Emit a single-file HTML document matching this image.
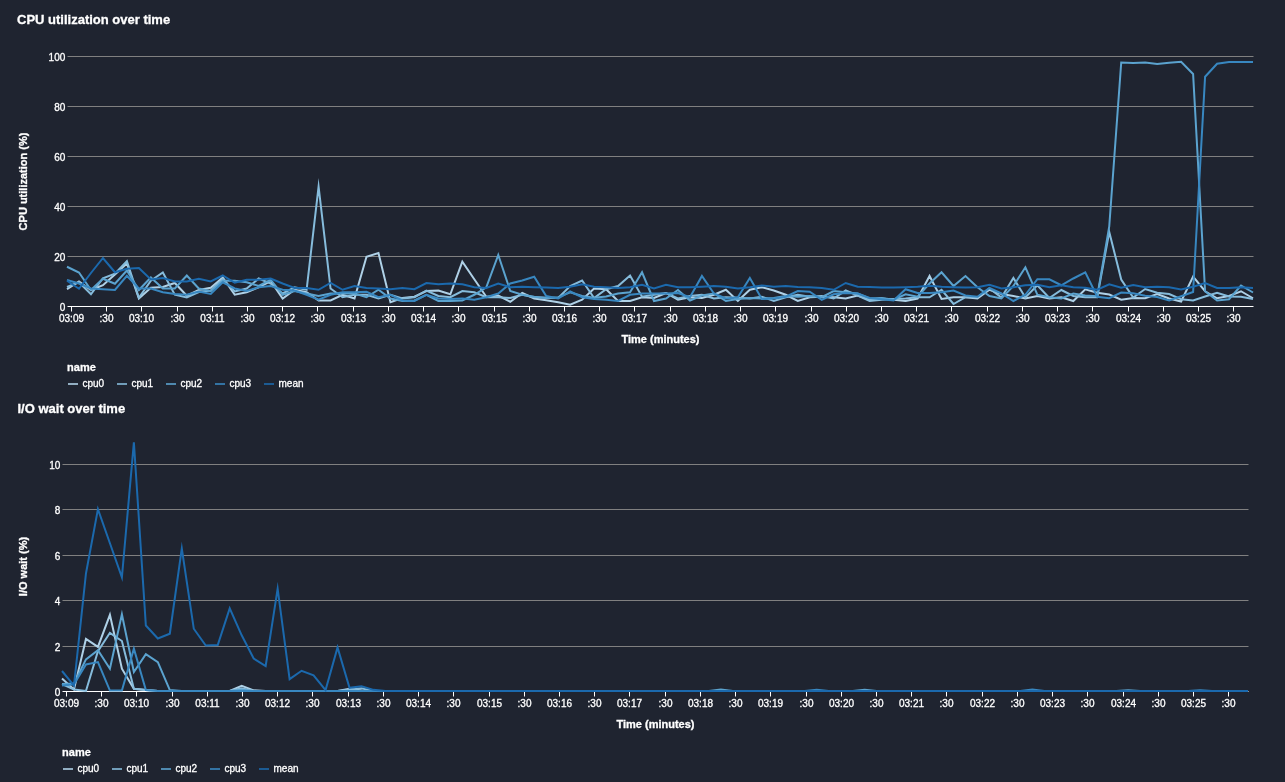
<!DOCTYPE html>
<html><head><meta charset="utf-8"><style>
html,body{margin:0;padding:0;background:#1f2430;}
body{width:1285px;height:782px;overflow:hidden;}
svg{display:block;}
text{}
text{font-family:"Liberation Sans",sans-serif;fill:#ffffff;stroke:#ffffff;stroke-width:0.3px;}
.t{font-size:13px;font-weight:bold;}
.a{font-size:11px;font-weight:bold;}
.l{font-size:10px;}
</style></head><body>
<svg width="1285" height="782" viewBox="0 0 1285 782" style="will-change:transform">
<rect width="1285" height="782" fill="#1f2430"/>
<text x="17" y="23.9" class="t">CPU utilization over time</text>
<line x1="67.5" x2="1253.5" y1="256.50" y2="256.50" stroke="#808080" stroke-width="1"/>
<line x1="67.5" x2="1253.5" y1="206.50" y2="206.50" stroke="#808080" stroke-width="1"/>
<line x1="67.5" x2="1253.5" y1="156.50" y2="156.50" stroke="#808080" stroke-width="1"/>
<line x1="67.5" x2="1253.5" y1="106.50" y2="106.50" stroke="#808080" stroke-width="1"/>
<line x1="67.5" x2="1253.5" y1="56.50" y2="56.50" stroke="#808080" stroke-width="1"/>
<text x="65.30" y="310.60" class="l" text-anchor="end">0</text>
<text x="65.30" y="260.60" class="l" text-anchor="end">20</text>
<text x="65.30" y="210.60" class="l" text-anchor="end">40</text>
<text x="65.30" y="160.60" class="l" text-anchor="end">60</text>
<text x="65.30" y="110.60" class="l" text-anchor="end">80</text>
<text x="65.30" y="60.60" class="l" text-anchor="end">100</text>
<text transform="translate(27.1,181.5) rotate(-90)" class="a" text-anchor="middle">CPU utilization (%)</text>
<line x1="67.5" x2="1253.5" y1="306.5" y2="306.5" stroke="#ffffff" stroke-width="1"/>
<line x1="71.50" x2="71.50" y1="306.5" y2="311.5" stroke="#ffffff" stroke-width="1"/>
<text x="71.50" y="321.70" class="l" text-anchor="middle">03:09</text>
<line x1="106.50" x2="106.50" y1="306.5" y2="311.5" stroke="#ffffff" stroke-width="1"/>
<text x="106.50" y="321.70" class="l" text-anchor="middle">:30</text>
<line x1="141.50" x2="141.50" y1="306.5" y2="311.5" stroke="#ffffff" stroke-width="1"/>
<text x="141.50" y="321.70" class="l" text-anchor="middle">03:10</text>
<line x1="177.50" x2="177.50" y1="306.5" y2="311.5" stroke="#ffffff" stroke-width="1"/>
<text x="177.50" y="321.70" class="l" text-anchor="middle">:30</text>
<line x1="212.50" x2="212.50" y1="306.5" y2="311.5" stroke="#ffffff" stroke-width="1"/>
<text x="212.50" y="321.70" class="l" text-anchor="middle">03:11</text>
<line x1="247.50" x2="247.50" y1="306.5" y2="311.5" stroke="#ffffff" stroke-width="1"/>
<text x="247.50" y="321.70" class="l" text-anchor="middle">:30</text>
<line x1="282.50" x2="282.50" y1="306.5" y2="311.5" stroke="#ffffff" stroke-width="1"/>
<text x="282.50" y="321.70" class="l" text-anchor="middle">03:12</text>
<line x1="317.50" x2="317.50" y1="306.5" y2="311.5" stroke="#ffffff" stroke-width="1"/>
<text x="317.50" y="321.70" class="l" text-anchor="middle">:30</text>
<line x1="353.50" x2="353.50" y1="306.5" y2="311.5" stroke="#ffffff" stroke-width="1"/>
<text x="353.50" y="321.70" class="l" text-anchor="middle">03:13</text>
<line x1="388.50" x2="388.50" y1="306.5" y2="311.5" stroke="#ffffff" stroke-width="1"/>
<text x="388.50" y="321.70" class="l" text-anchor="middle">:30</text>
<line x1="423.50" x2="423.50" y1="306.5" y2="311.5" stroke="#ffffff" stroke-width="1"/>
<text x="423.50" y="321.70" class="l" text-anchor="middle">03:14</text>
<line x1="458.50" x2="458.50" y1="306.5" y2="311.5" stroke="#ffffff" stroke-width="1"/>
<text x="458.50" y="321.70" class="l" text-anchor="middle">:30</text>
<line x1="494.50" x2="494.50" y1="306.5" y2="311.5" stroke="#ffffff" stroke-width="1"/>
<text x="494.50" y="321.70" class="l" text-anchor="middle">03:15</text>
<line x1="529.50" x2="529.50" y1="306.5" y2="311.5" stroke="#ffffff" stroke-width="1"/>
<text x="529.50" y="321.70" class="l" text-anchor="middle">:30</text>
<line x1="564.50" x2="564.50" y1="306.5" y2="311.5" stroke="#ffffff" stroke-width="1"/>
<text x="564.50" y="321.70" class="l" text-anchor="middle">03:16</text>
<line x1="599.50" x2="599.50" y1="306.5" y2="311.5" stroke="#ffffff" stroke-width="1"/>
<text x="599.50" y="321.70" class="l" text-anchor="middle">:30</text>
<line x1="634.50" x2="634.50" y1="306.5" y2="311.5" stroke="#ffffff" stroke-width="1"/>
<text x="634.50" y="321.70" class="l" text-anchor="middle">03:17</text>
<line x1="670.50" x2="670.50" y1="306.5" y2="311.5" stroke="#ffffff" stroke-width="1"/>
<text x="670.50" y="321.70" class="l" text-anchor="middle">:30</text>
<line x1="705.50" x2="705.50" y1="306.5" y2="311.5" stroke="#ffffff" stroke-width="1"/>
<text x="705.50" y="321.70" class="l" text-anchor="middle">03:18</text>
<line x1="740.50" x2="740.50" y1="306.5" y2="311.5" stroke="#ffffff" stroke-width="1"/>
<text x="740.50" y="321.70" class="l" text-anchor="middle">:30</text>
<line x1="775.50" x2="775.50" y1="306.5" y2="311.5" stroke="#ffffff" stroke-width="1"/>
<text x="775.50" y="321.70" class="l" text-anchor="middle">03:19</text>
<line x1="811.50" x2="811.50" y1="306.5" y2="311.5" stroke="#ffffff" stroke-width="1"/>
<text x="811.50" y="321.70" class="l" text-anchor="middle">:30</text>
<line x1="846.50" x2="846.50" y1="306.5" y2="311.5" stroke="#ffffff" stroke-width="1"/>
<text x="846.50" y="321.70" class="l" text-anchor="middle">03:20</text>
<line x1="881.50" x2="881.50" y1="306.5" y2="311.5" stroke="#ffffff" stroke-width="1"/>
<text x="881.50" y="321.70" class="l" text-anchor="middle">:30</text>
<line x1="916.50" x2="916.50" y1="306.5" y2="311.5" stroke="#ffffff" stroke-width="1"/>
<text x="916.50" y="321.70" class="l" text-anchor="middle">03:21</text>
<line x1="951.50" x2="951.50" y1="306.5" y2="311.5" stroke="#ffffff" stroke-width="1"/>
<text x="951.50" y="321.70" class="l" text-anchor="middle">:30</text>
<line x1="987.50" x2="987.50" y1="306.5" y2="311.5" stroke="#ffffff" stroke-width="1"/>
<text x="987.50" y="321.70" class="l" text-anchor="middle">03:22</text>
<line x1="1022.50" x2="1022.50" y1="306.5" y2="311.5" stroke="#ffffff" stroke-width="1"/>
<text x="1022.50" y="321.70" class="l" text-anchor="middle">:30</text>
<line x1="1057.50" x2="1057.50" y1="306.5" y2="311.5" stroke="#ffffff" stroke-width="1"/>
<text x="1057.50" y="321.70" class="l" text-anchor="middle">03:23</text>
<line x1="1092.50" x2="1092.50" y1="306.5" y2="311.5" stroke="#ffffff" stroke-width="1"/>
<text x="1092.50" y="321.70" class="l" text-anchor="middle">:30</text>
<line x1="1128.50" x2="1128.50" y1="306.5" y2="311.5" stroke="#ffffff" stroke-width="1"/>
<text x="1128.50" y="321.70" class="l" text-anchor="middle">03:24</text>
<line x1="1163.50" x2="1163.50" y1="306.5" y2="311.5" stroke="#ffffff" stroke-width="1"/>
<text x="1163.50" y="321.70" class="l" text-anchor="middle">:30</text>
<line x1="1198.50" x2="1198.50" y1="306.5" y2="311.5" stroke="#ffffff" stroke-width="1"/>
<text x="1198.50" y="321.70" class="l" text-anchor="middle">03:25</text>
<line x1="1233.50" x2="1233.50" y1="306.5" y2="311.5" stroke="#ffffff" stroke-width="1"/>
<text x="1233.50" y="321.70" class="l" text-anchor="middle">:30</text>
<text x="660.50" y="342.80" class="a" text-anchor="middle">Time (minutes)</text>
<polyline points="67.00,289.25 78.98,281.50 90.96,290.00 102.94,285.25 114.92,274.50 126.90,263.50 138.88,298.50 150.86,287.75 162.84,287.00 174.82,283.00 186.80,295.75 198.78,290.00 210.76,287.75 222.74,277.50 234.72,294.75 246.70,292.25 258.68,287.25 270.66,281.00 282.64,298.50 294.62,289.75 306.60,292.25 318.58,300.50 330.56,300.50 342.54,294.75 354.52,298.50 366.49,256.75 378.47,253.00 390.45,302.25 402.43,298.00 414.41,296.75 426.39,291.00 438.37,290.50 450.35,294.25 462.33,261.75 474.31,279.25 486.29,296.75 498.27,295.50 510.25,301.75 522.23,293.00 534.21,298.50 546.19,300.25 558.17,302.25 570.15,304.75 582.13,299.75 594.11,288.50 606.09,289.25 618.07,301.00 630.05,301.00 642.03,297.25 654.01,298.00 665.99,293.00 677.97,299.75 689.95,297.25 701.93,298.00 713.91,294.75 725.89,289.75 737.87,301.00 749.85,289.75 761.83,287.25 773.81,290.50 785.79,294.75 797.77,301.00 809.75,297.25 821.73,296.75 833.71,297.25 845.69,298.50 857.67,295.50 869.65,299.75 881.63,298.50 893.61,299.75 905.59,301.00 917.57,298.50 929.55,276.00 941.53,299.00 953.51,297.25 965.48,297.25 977.46,298.50 989.44,289.75 1001.42,294.00 1013.40,296.00 1025.38,298.50 1037.36,296.00 1049.34,298.50 1061.32,297.25 1073.30,301.00 1085.28,289.25 1097.26,292.75 1109.24,294.50 1121.22,299.75 1133.20,298.00 1145.18,298.25 1157.16,294.00 1169.14,298.50 1181.12,301.50 1193.10,276.50 1205.08,291.25 1217.06,298.25 1229.04,296.00 1241.02,291.25 1253.00,298.25" fill="none" stroke="#afd1e7" stroke-width="2" stroke-miterlimit="10"/>
<polyline points="67.00,287.00 78.98,282.25 90.96,294.25 102.94,278.25 114.92,273.75 126.90,261.25 138.88,297.75 150.86,280.75 162.84,272.50 174.82,294.75 186.80,297.50 198.78,292.00 210.76,290.50 222.74,279.25 234.72,291.50 246.70,288.50 258.68,278.50 270.66,283.50 282.64,293.50 294.62,287.25 306.60,289.75 318.58,186.56 330.56,288.50 342.54,297.25 354.52,294.75 366.49,294.75 378.47,298.50 390.45,294.75 402.43,298.50 414.41,297.25 426.39,290.50 438.37,296.00 450.35,297.25 462.33,291.00 474.31,292.25 486.29,297.25 498.27,297.25 510.25,298.00 522.23,294.75 534.21,297.25 546.19,297.75 558.17,298.00 570.15,286.00 582.13,280.50 594.11,298.00 606.09,289.25 618.07,286.00 630.05,275.50 642.03,296.75 654.01,294.75 665.99,293.00 677.97,298.50 689.95,296.00 701.93,294.75 713.91,298.50 725.89,297.25 737.87,297.75 749.85,298.50 761.83,296.75 773.81,301.00 785.79,297.25 797.77,294.75 809.75,296.75 821.73,296.00 833.71,298.50 845.69,290.50 857.67,295.50 869.65,301.00 881.63,299.75 893.61,299.00 905.59,298.50 917.57,297.25 929.55,297.25 941.53,289.75 953.51,304.00 965.48,297.25 977.46,297.25 989.44,288.50 1001.42,297.50 1013.40,278.00 1025.38,297.50 1037.36,285.25 1049.34,298.00 1061.32,290.00 1073.30,296.00 1085.28,297.25 1097.26,297.25 1109.24,232.03 1121.22,279.50 1133.20,297.50 1145.18,289.00 1157.16,292.75 1169.14,294.00 1181.12,299.25 1193.10,300.50 1205.08,296.50 1217.06,292.75 1229.04,296.50 1241.02,296.75 1253.00,299.00" fill="none" stroke="#86bcdc" stroke-width="2" stroke-miterlimit="10"/>
<polyline points="67.00,266.75 78.98,272.50 90.96,290.00 102.94,278.75 114.92,283.75 126.90,270.50 138.88,290.00 150.86,277.50 162.84,288.50 174.82,288.50 186.80,275.50 198.78,288.50 210.76,291.25 222.74,280.75 234.72,280.75 246.70,282.25 258.68,286.00 270.66,279.75 282.64,294.75 294.62,291.00 306.60,293.50 318.58,296.00 330.56,293.50 342.54,293.50 354.52,293.50 366.49,297.25 378.47,289.75 390.45,298.50 402.43,301.00 414.41,300.50 426.39,294.75 438.37,301.00 450.35,301.00 462.33,300.50 474.31,294.75 486.29,287.25 498.27,255.00 510.25,291.00 522.23,294.75 534.21,296.75 546.19,298.00 558.17,297.25 570.15,292.25 582.13,296.00 594.11,297.75 606.09,296.50 618.07,293.50 630.05,292.25 642.03,272.25 654.01,301.00 665.99,298.50 677.97,290.00 689.95,300.50 701.93,295.50 713.91,293.50 725.89,301.00 737.87,299.00 749.85,298.00 761.83,298.50 773.81,298.00 785.79,296.00 797.77,296.75 809.75,296.00 821.73,297.25 833.71,291.00 845.69,292.25 857.67,293.50 869.65,298.50 881.63,298.00 893.61,299.75 905.59,294.25 917.57,296.75 929.55,283.50 941.53,272.25 953.51,286.00 965.48,276.00 977.46,287.25 989.44,296.00 1001.42,298.50 1013.40,286.00 1025.38,267.25 1037.36,294.75 1049.34,297.25 1061.32,298.50 1073.30,293.50 1085.28,295.50 1097.26,296.25 1109.24,226.50 1121.22,62.50 1133.20,63.00 1145.18,62.50 1157.16,64.00 1169.14,62.75 1181.12,61.75 1193.10,74.00 1205.08,291.25 1217.06,300.50 1229.04,299.25 1241.02,285.50 1253.00,292.50" fill="none" stroke="#5ba3cf" stroke-width="2" stroke-miterlimit="10"/>
<polyline points="67.00,280.00 78.98,283.50 90.96,288.50 102.94,289.25 114.92,290.00 126.90,275.75 138.88,288.50 150.86,288.50 162.84,292.25 174.82,294.00 186.80,294.75 198.78,291.50 210.76,294.00 222.74,282.25 234.72,288.50 246.70,291.00 258.68,287.25 270.66,286.00 282.64,289.75 294.62,290.50 306.60,294.75 318.58,299.75 330.56,294.75 342.54,292.25 354.52,292.25 366.49,291.75 378.47,297.25 390.45,294.75 402.43,300.50 414.41,301.00 426.39,294.75 438.37,298.50 450.35,299.00 462.33,298.50 474.31,299.75 486.29,297.25 498.27,293.50 510.25,283.50 522.23,280.50 534.21,276.75 546.19,296.00 558.17,298.50 570.15,291.50 582.13,297.25 594.11,299.00 606.09,299.75 618.07,301.00 630.05,294.75 642.03,293.50 654.01,293.50 665.99,293.50 677.97,293.00 689.95,297.25 701.93,276.00 713.91,293.50 725.89,298.50 737.87,297.25 749.85,278.00 761.83,299.00 773.81,298.50 785.79,296.75 797.77,291.00 809.75,291.75 821.73,299.75 833.71,294.25 845.69,293.00 857.67,293.50 869.65,298.00 881.63,299.25 893.61,300.50 905.59,289.25 917.57,293.00 929.55,293.00 941.53,292.25 953.51,290.50 965.48,295.50 977.46,296.75 989.44,288.00 1001.42,293.50 1013.40,301.00 1025.38,294.75 1037.36,279.25 1049.34,279.25 1061.32,285.25 1073.30,278.50 1085.28,272.25 1097.26,296.75 1109.24,298.25 1121.22,292.50 1133.20,293.25 1145.18,295.75 1157.16,297.00 1169.14,300.50 1181.12,296.25 1193.10,292.00 1205.08,76.75 1217.06,63.75 1229.04,62.00 1241.02,62.00 1253.00,62.00" fill="none" stroke="#3887c0" stroke-width="2" stroke-miterlimit="10"/>
<polyline points="67.00,280.75 78.98,288.75 90.96,273.00 102.94,258.00 114.92,272.25 126.90,268.75 138.88,268.00 150.86,279.50 162.84,278.00 174.82,281.50 186.80,281.50 198.78,278.75 210.76,281.50 222.74,275.50 234.72,282.75 246.70,279.75 258.68,279.75 270.66,278.50 282.64,283.50 294.62,288.00 306.60,288.00 318.58,289.75 330.56,283.00 342.54,289.75 354.52,286.00 366.49,288.00 378.47,288.50 390.45,289.25 402.43,288.00 414.41,289.25 426.39,283.00 438.37,284.25 450.35,283.50 462.33,284.25 474.31,287.25 486.29,288.00 498.27,283.50 510.25,287.25 522.23,286.75 534.21,287.25 546.19,287.50 558.17,288.00 570.15,286.75 582.13,284.25 594.11,286.75 606.09,287.25 618.07,288.00 630.05,287.25 642.03,284.75 654.01,288.50 665.99,284.75 677.97,287.25 689.95,287.25 701.93,286.75 713.91,286.00 725.89,286.75 737.87,288.50 749.85,287.25 761.83,285.50 773.81,286.75 785.79,286.00 797.77,287.00 809.75,287.25 821.73,288.00 833.71,289.75 845.69,283.00 857.67,286.75 869.65,287.00 881.63,287.50 893.61,287.50 905.59,287.25 917.57,286.75 929.55,285.75 941.53,286.75 953.51,287.25 965.48,287.50 977.46,287.25 989.44,284.75 1001.42,288.50 1013.40,287.25 1025.38,285.25 1037.36,284.75 1049.34,287.25 1061.32,285.25 1073.30,287.25 1085.28,287.75 1097.26,289.75 1109.24,284.25 1121.22,287.75 1133.20,285.00 1145.18,287.25 1157.16,286.75 1169.14,287.25 1181.12,289.50 1193.10,286.75 1205.08,283.00 1217.06,288.00 1229.04,288.00 1241.02,287.25 1253.00,288.00" fill="none" stroke="#1b69ad" stroke-width="2" stroke-miterlimit="10"/>
<text x="67.10" y="371.10" class="a">name</text>
<line x1="68.00" x2="78.00" y1="384.00" y2="384.00" stroke="#afd1e7" stroke-opacity="0.8" stroke-width="2"/>
<text x="82.50" y="386.80" class="l">cpu0</text>
<line x1="117.00" x2="127.00" y1="384.00" y2="384.00" stroke="#86bcdc" stroke-opacity="0.8" stroke-width="2"/>
<text x="131.50" y="386.80" class="l">cpu1</text>
<line x1="166.00" x2="176.00" y1="384.00" y2="384.00" stroke="#5ba3cf" stroke-opacity="0.8" stroke-width="2"/>
<text x="180.50" y="386.80" class="l">cpu2</text>
<line x1="215.00" x2="225.00" y1="384.00" y2="384.00" stroke="#3887c0" stroke-opacity="0.8" stroke-width="2"/>
<text x="229.50" y="386.80" class="l">cpu3</text>
<line x1="264.00" x2="274.00" y1="384.00" y2="384.00" stroke="#1b69ad" stroke-opacity="0.8" stroke-width="2"/>
<text x="278.50" y="386.80" class="l">mean</text>
<text x="17.5" y="413.0" class="t">I/O wait over time</text>
<line x1="62.5" x2="1248.5" y1="646.50" y2="646.50" stroke="#808080" stroke-width="1"/>
<line x1="62.5" x2="1248.5" y1="600.50" y2="600.50" stroke="#808080" stroke-width="1"/>
<line x1="62.5" x2="1248.5" y1="555.50" y2="555.50" stroke="#808080" stroke-width="1"/>
<line x1="62.5" x2="1248.5" y1="509.50" y2="509.50" stroke="#808080" stroke-width="1"/>
<line x1="62.5" x2="1248.5" y1="464.50" y2="464.50" stroke="#808080" stroke-width="1"/>
<text x="60.30" y="695.60" class="l" text-anchor="end">0</text>
<text x="60.30" y="650.60" class="l" text-anchor="end">2</text>
<text x="60.30" y="604.60" class="l" text-anchor="end">4</text>
<text x="60.30" y="559.60" class="l" text-anchor="end">6</text>
<text x="60.30" y="513.60" class="l" text-anchor="end">8</text>
<text x="60.30" y="468.60" class="l" text-anchor="end">10</text>
<text transform="translate(27.1,566.5) rotate(-90)" class="a" text-anchor="middle">I/O wait (%)</text>
<line x1="62.5" x2="1248.5" y1="691.5" y2="691.5" stroke="#ffffff" stroke-width="1"/>
<line x1="66.50" x2="66.50" y1="691.5" y2="696.5" stroke="#ffffff" stroke-width="1"/>
<text x="66.50" y="706.70" class="l" text-anchor="middle">03:09</text>
<line x1="101.50" x2="101.50" y1="691.5" y2="696.5" stroke="#ffffff" stroke-width="1"/>
<text x="101.50" y="706.70" class="l" text-anchor="middle">:30</text>
<line x1="136.50" x2="136.50" y1="691.5" y2="696.5" stroke="#ffffff" stroke-width="1"/>
<text x="136.50" y="706.70" class="l" text-anchor="middle">03:10</text>
<line x1="172.50" x2="172.50" y1="691.5" y2="696.5" stroke="#ffffff" stroke-width="1"/>
<text x="172.50" y="706.70" class="l" text-anchor="middle">:30</text>
<line x1="207.50" x2="207.50" y1="691.5" y2="696.5" stroke="#ffffff" stroke-width="1"/>
<text x="207.50" y="706.70" class="l" text-anchor="middle">03:11</text>
<line x1="242.50" x2="242.50" y1="691.5" y2="696.5" stroke="#ffffff" stroke-width="1"/>
<text x="242.50" y="706.70" class="l" text-anchor="middle">:30</text>
<line x1="277.50" x2="277.50" y1="691.5" y2="696.5" stroke="#ffffff" stroke-width="1"/>
<text x="277.50" y="706.70" class="l" text-anchor="middle">03:12</text>
<line x1="312.50" x2="312.50" y1="691.5" y2="696.5" stroke="#ffffff" stroke-width="1"/>
<text x="312.50" y="706.70" class="l" text-anchor="middle">:30</text>
<line x1="348.50" x2="348.50" y1="691.5" y2="696.5" stroke="#ffffff" stroke-width="1"/>
<text x="348.50" y="706.70" class="l" text-anchor="middle">03:13</text>
<line x1="383.50" x2="383.50" y1="691.5" y2="696.5" stroke="#ffffff" stroke-width="1"/>
<text x="383.50" y="706.70" class="l" text-anchor="middle">:30</text>
<line x1="418.50" x2="418.50" y1="691.5" y2="696.5" stroke="#ffffff" stroke-width="1"/>
<text x="418.50" y="706.70" class="l" text-anchor="middle">03:14</text>
<line x1="453.50" x2="453.50" y1="691.5" y2="696.5" stroke="#ffffff" stroke-width="1"/>
<text x="453.50" y="706.70" class="l" text-anchor="middle">:30</text>
<line x1="489.50" x2="489.50" y1="691.5" y2="696.5" stroke="#ffffff" stroke-width="1"/>
<text x="489.50" y="706.70" class="l" text-anchor="middle">03:15</text>
<line x1="524.50" x2="524.50" y1="691.5" y2="696.5" stroke="#ffffff" stroke-width="1"/>
<text x="524.50" y="706.70" class="l" text-anchor="middle">:30</text>
<line x1="559.50" x2="559.50" y1="691.5" y2="696.5" stroke="#ffffff" stroke-width="1"/>
<text x="559.50" y="706.70" class="l" text-anchor="middle">03:16</text>
<line x1="594.50" x2="594.50" y1="691.5" y2="696.5" stroke="#ffffff" stroke-width="1"/>
<text x="594.50" y="706.70" class="l" text-anchor="middle">:30</text>
<line x1="629.50" x2="629.50" y1="691.5" y2="696.5" stroke="#ffffff" stroke-width="1"/>
<text x="629.50" y="706.70" class="l" text-anchor="middle">03:17</text>
<line x1="665.50" x2="665.50" y1="691.5" y2="696.5" stroke="#ffffff" stroke-width="1"/>
<text x="665.50" y="706.70" class="l" text-anchor="middle">:30</text>
<line x1="700.50" x2="700.50" y1="691.5" y2="696.5" stroke="#ffffff" stroke-width="1"/>
<text x="700.50" y="706.70" class="l" text-anchor="middle">03:18</text>
<line x1="735.50" x2="735.50" y1="691.5" y2="696.5" stroke="#ffffff" stroke-width="1"/>
<text x="735.50" y="706.70" class="l" text-anchor="middle">:30</text>
<line x1="770.50" x2="770.50" y1="691.5" y2="696.5" stroke="#ffffff" stroke-width="1"/>
<text x="770.50" y="706.70" class="l" text-anchor="middle">03:19</text>
<line x1="806.50" x2="806.50" y1="691.5" y2="696.5" stroke="#ffffff" stroke-width="1"/>
<text x="806.50" y="706.70" class="l" text-anchor="middle">:30</text>
<line x1="841.50" x2="841.50" y1="691.5" y2="696.5" stroke="#ffffff" stroke-width="1"/>
<text x="841.50" y="706.70" class="l" text-anchor="middle">03:20</text>
<line x1="876.50" x2="876.50" y1="691.5" y2="696.5" stroke="#ffffff" stroke-width="1"/>
<text x="876.50" y="706.70" class="l" text-anchor="middle">:30</text>
<line x1="911.50" x2="911.50" y1="691.5" y2="696.5" stroke="#ffffff" stroke-width="1"/>
<text x="911.50" y="706.70" class="l" text-anchor="middle">03:21</text>
<line x1="946.50" x2="946.50" y1="691.5" y2="696.5" stroke="#ffffff" stroke-width="1"/>
<text x="946.50" y="706.70" class="l" text-anchor="middle">:30</text>
<line x1="982.50" x2="982.50" y1="691.5" y2="696.5" stroke="#ffffff" stroke-width="1"/>
<text x="982.50" y="706.70" class="l" text-anchor="middle">03:22</text>
<line x1="1017.50" x2="1017.50" y1="691.5" y2="696.5" stroke="#ffffff" stroke-width="1"/>
<text x="1017.50" y="706.70" class="l" text-anchor="middle">:30</text>
<line x1="1052.50" x2="1052.50" y1="691.5" y2="696.5" stroke="#ffffff" stroke-width="1"/>
<text x="1052.50" y="706.70" class="l" text-anchor="middle">03:23</text>
<line x1="1087.50" x2="1087.50" y1="691.5" y2="696.5" stroke="#ffffff" stroke-width="1"/>
<text x="1087.50" y="706.70" class="l" text-anchor="middle">:30</text>
<line x1="1123.50" x2="1123.50" y1="691.5" y2="696.5" stroke="#ffffff" stroke-width="1"/>
<text x="1123.50" y="706.70" class="l" text-anchor="middle">03:24</text>
<line x1="1158.50" x2="1158.50" y1="691.5" y2="696.5" stroke="#ffffff" stroke-width="1"/>
<text x="1158.50" y="706.70" class="l" text-anchor="middle">:30</text>
<line x1="1193.50" x2="1193.50" y1="691.5" y2="696.5" stroke="#ffffff" stroke-width="1"/>
<text x="1193.50" y="706.70" class="l" text-anchor="middle">03:25</text>
<line x1="1228.50" x2="1228.50" y1="691.5" y2="696.5" stroke="#ffffff" stroke-width="1"/>
<text x="1228.50" y="706.70" class="l" text-anchor="middle">:30</text>
<text x="655.50" y="727.80" class="a" text-anchor="middle">Time (minutes)</text>
<polyline points="62.00,678.50 73.98,689.41 85.96,638.95 97.94,646.91 109.92,614.88 121.90,668.73 133.88,688.73 145.86,690.09 157.84,691.00 169.82,691.00 181.80,691.00 193.78,691.00 205.76,691.00 217.74,691.00 229.72,691.00 241.70,685.77 253.68,690.32 265.66,691.00 277.64,691.00 289.62,691.00 301.60,691.00 313.58,691.00 325.56,691.00 337.54,691.00 349.52,688.73 361.49,690.55 373.47,691.00 385.45,691.00 397.43,691.00 409.41,691.00 421.39,691.00 433.37,691.00 445.35,691.00 457.33,691.00 469.31,691.00 481.29,691.00 493.27,691.00 505.25,691.00 517.23,691.00 529.21,691.00 541.19,691.00 553.17,691.00 565.15,691.00 577.13,691.00 589.11,691.00 601.09,691.00 613.07,691.00 625.05,691.00 637.03,691.00 649.01,691.00 660.99,691.00 672.97,691.00 684.95,691.00 696.93,691.00 708.91,691.00 720.89,691.00 732.87,691.00 744.85,691.00 756.83,691.00 768.81,691.00 780.79,691.00 792.77,691.00 804.75,691.00 816.73,691.00 828.71,691.00 840.69,691.00 852.67,691.00 864.65,691.00 876.63,691.00 888.61,691.00 900.59,691.00 912.57,691.00 924.55,691.00 936.53,691.00 948.51,691.00 960.48,691.00 972.46,691.00 984.44,691.00 996.42,691.00 1008.40,691.00 1020.38,691.00 1032.36,691.00 1044.34,691.00 1056.32,691.00 1068.30,691.00 1080.28,691.00 1092.26,691.00 1104.24,691.00 1116.22,691.00 1128.20,691.00 1140.18,691.00 1152.16,691.00 1164.14,691.00 1176.12,691.00 1188.10,691.00 1200.08,691.00 1212.06,691.00 1224.04,691.00 1236.02,691.00 1248.00,691.00" fill="none" stroke="#afd1e7" stroke-width="2" stroke-miterlimit="10"/>
<polyline points="62.00,684.18 73.98,689.41 85.96,691.00 97.94,651.23 109.92,632.82 121.90,641.00 133.88,688.73 145.86,690.09 157.84,691.00 169.82,691.00 181.80,691.00 193.78,691.00 205.76,691.00 217.74,691.00 229.72,691.00 241.70,688.27 253.68,691.00 265.66,691.00 277.64,691.00 289.62,691.00 301.60,691.00 313.58,691.00 325.56,691.00 337.54,691.00 349.52,689.86 361.49,688.27 373.47,691.00 385.45,691.00 397.43,691.00 409.41,691.00 421.39,691.00 433.37,691.00 445.35,691.00 457.33,691.00 469.31,691.00 481.29,691.00 493.27,691.00 505.25,691.00 517.23,691.00 529.21,691.00 541.19,691.00 553.17,691.00 565.15,691.00 577.13,691.00 589.11,691.00 601.09,691.00 613.07,691.00 625.05,691.00 637.03,691.00 649.01,691.00 660.99,691.00 672.97,691.00 684.95,691.00 696.93,691.00 708.91,691.00 720.89,691.00 732.87,691.00 744.85,691.00 756.83,691.00 768.81,691.00 780.79,691.00 792.77,691.00 804.75,691.00 816.73,691.00 828.71,691.00 840.69,691.00 852.67,691.00 864.65,691.00 876.63,691.00 888.61,691.00 900.59,691.00 912.57,691.00 924.55,691.00 936.53,691.00 948.51,691.00 960.48,691.00 972.46,691.00 984.44,691.00 996.42,691.00 1008.40,691.00 1020.38,691.00 1032.36,691.00 1044.34,691.00 1056.32,691.00 1068.30,691.00 1080.28,691.00 1092.26,691.00 1104.24,691.00 1116.22,691.00 1128.20,691.00 1140.18,691.00 1152.16,691.00 1164.14,691.00 1176.12,691.00 1188.10,691.00 1200.08,691.00 1212.06,691.00 1224.04,691.00 1236.02,691.00 1248.00,691.00" fill="none" stroke="#86bcdc" stroke-width="2" stroke-miterlimit="10"/>
<polyline points="62.00,683.95 73.98,683.50 85.96,659.41 97.94,650.32 109.92,668.73 121.90,614.18 133.88,672.03 145.86,654.18 157.84,662.14 169.82,690.09 181.80,691.00 193.78,691.00 205.76,691.00 217.74,691.00 229.72,691.00 241.70,689.86 253.68,691.00 265.66,691.00 277.64,691.00 289.62,691.00 301.60,691.00 313.58,691.00 325.56,691.00 337.54,691.00 349.52,691.00 361.49,691.00 373.47,691.00 385.45,691.00 397.43,691.00 409.41,691.00 421.39,691.00 433.37,691.00 445.35,691.00 457.33,691.00 469.31,691.00 481.29,691.00 493.27,691.00 505.25,691.00 517.23,691.00 529.21,691.00 541.19,691.00 553.17,691.00 565.15,691.00 577.13,691.00 589.11,691.00 601.09,691.00 613.07,691.00 625.05,691.00 637.03,691.00 649.01,691.00 660.99,691.00 672.97,691.00 684.95,691.00 696.93,691.00 708.91,691.00 720.89,689.41 732.87,691.00 744.85,691.00 756.83,691.00 768.81,691.00 780.79,691.00 792.77,691.00 804.75,691.00 816.73,691.00 828.71,691.00 840.69,691.00 852.67,691.00 864.65,689.86 876.63,691.00 888.61,691.00 900.59,691.00 912.57,691.00 924.55,691.00 936.53,691.00 948.51,691.00 960.48,691.00 972.46,691.00 984.44,691.00 996.42,691.00 1008.40,691.00 1020.38,691.00 1032.36,691.00 1044.34,691.00 1056.32,691.00 1068.30,691.00 1080.28,691.00 1092.26,691.00 1104.24,691.00 1116.22,691.00 1128.20,690.32 1140.18,691.00 1152.16,691.00 1164.14,691.00 1176.12,691.00 1188.10,691.00 1200.08,691.00 1212.06,691.00 1224.04,691.00 1236.02,691.00 1248.00,691.00" fill="none" stroke="#5ba3cf" stroke-width="2" stroke-miterlimit="10"/>
<polyline points="62.00,685.55 73.98,684.41 85.96,664.41 97.94,662.14 109.92,690.55 121.90,690.55 133.88,648.62 145.86,690.09 157.84,691.00 169.82,691.00 181.80,691.00 193.78,691.00 205.76,691.00 217.74,691.00 229.72,691.00 241.70,691.00 253.68,691.00 265.66,691.00 277.64,691.00 289.62,691.00 301.60,691.00 313.58,691.00 325.56,691.00 337.54,691.00 349.52,691.00 361.49,691.00 373.47,691.00 385.45,691.00 397.43,691.00 409.41,691.00 421.39,691.00 433.37,691.00 445.35,691.00 457.33,691.00 469.31,691.00 481.29,691.00 493.27,691.00 505.25,691.00 517.23,691.00 529.21,691.00 541.19,691.00 553.17,691.00 565.15,691.00 577.13,691.00 589.11,691.00 601.09,691.00 613.07,691.00 625.05,691.00 637.03,691.00 649.01,691.00 660.99,691.00 672.97,691.00 684.95,691.00 696.93,691.00 708.91,691.00 720.89,691.00 732.87,691.00 744.85,691.00 756.83,691.00 768.81,691.00 780.79,691.00 792.77,691.00 804.75,691.00 816.73,689.64 828.71,691.00 840.69,691.00 852.67,691.00 864.65,691.00 876.63,691.00 888.61,691.00 900.59,691.00 912.57,691.00 924.55,691.00 936.53,691.00 948.51,691.00 960.48,691.00 972.46,691.00 984.44,691.00 996.42,691.00 1008.40,691.00 1020.38,691.00 1032.36,689.41 1044.34,691.00 1056.32,691.00 1068.30,691.00 1080.28,691.00 1092.26,691.00 1104.24,691.00 1116.22,691.00 1128.20,691.00 1140.18,691.00 1152.16,691.00 1164.14,691.00 1176.12,691.00 1188.10,691.00 1200.08,690.32 1212.06,691.00 1224.04,691.00 1236.02,691.00 1248.00,691.00" fill="none" stroke="#3887c0" stroke-width="2" stroke-miterlimit="10"/>
<polyline points="62.00,671.00 73.98,685.55 85.96,573.50 97.94,509.18 109.92,543.27 121.90,577.36 133.88,442.36 145.86,625.55 157.84,638.50 169.82,633.73 181.80,548.50 193.78,628.73 205.76,645.55 217.74,645.09 229.72,608.39 241.70,635.32 253.68,658.50 265.66,666.00 277.64,588.71 289.62,679.18 301.60,670.77 313.58,675.32 325.56,690.09 337.54,647.47 349.52,687.82 361.49,686.23 373.47,689.86 385.45,691.00 397.43,691.00 409.41,691.00 421.39,691.00 433.37,691.00 445.35,691.00 457.33,691.00 469.31,691.00 481.29,691.00 493.27,691.00 505.25,691.00 517.23,691.00 529.21,691.00 541.19,691.00 553.17,691.00 565.15,691.00 577.13,691.00 589.11,691.00 601.09,691.00 613.07,691.00 625.05,691.00 637.03,691.00 649.01,691.00 660.99,691.00 672.97,691.00 684.95,691.00 696.93,691.00 708.91,691.00 720.89,691.00 732.87,691.00 744.85,691.00 756.83,691.00 768.81,691.00 780.79,691.00 792.77,691.00 804.75,691.00 816.73,691.00 828.71,691.00 840.69,691.00 852.67,691.00 864.65,691.00 876.63,691.00 888.61,691.00 900.59,691.00 912.57,691.00 924.55,691.00 936.53,691.00 948.51,691.00 960.48,691.00 972.46,691.00 984.44,691.00 996.42,691.00 1008.40,691.00 1020.38,691.00 1032.36,691.00 1044.34,691.00 1056.32,691.00 1068.30,691.00 1080.28,691.00 1092.26,691.00 1104.24,691.00 1116.22,691.00 1128.20,691.00 1140.18,691.00 1152.16,691.00 1164.14,691.00 1176.12,691.00 1188.10,691.00 1200.08,691.00 1212.06,691.00 1224.04,691.00 1236.02,691.00 1248.00,691.00" fill="none" stroke="#1b69ad" stroke-width="2" stroke-miterlimit="10"/>
<text x="62.10" y="756.10" class="a">name</text>
<line x1="63.00" x2="73.00" y1="769.00" y2="769.00" stroke="#afd1e7" stroke-opacity="0.8" stroke-width="2"/>
<text x="77.50" y="771.80" class="l">cpu0</text>
<line x1="112.00" x2="122.00" y1="769.00" y2="769.00" stroke="#86bcdc" stroke-opacity="0.8" stroke-width="2"/>
<text x="126.50" y="771.80" class="l">cpu1</text>
<line x1="161.00" x2="171.00" y1="769.00" y2="769.00" stroke="#5ba3cf" stroke-opacity="0.8" stroke-width="2"/>
<text x="175.50" y="771.80" class="l">cpu2</text>
<line x1="210.00" x2="220.00" y1="769.00" y2="769.00" stroke="#3887c0" stroke-opacity="0.8" stroke-width="2"/>
<text x="224.50" y="771.80" class="l">cpu3</text>
<line x1="259.00" x2="269.00" y1="769.00" y2="769.00" stroke="#1b69ad" stroke-opacity="0.8" stroke-width="2"/>
<text x="273.50" y="771.80" class="l">mean</text>
</svg>
</body></html>
